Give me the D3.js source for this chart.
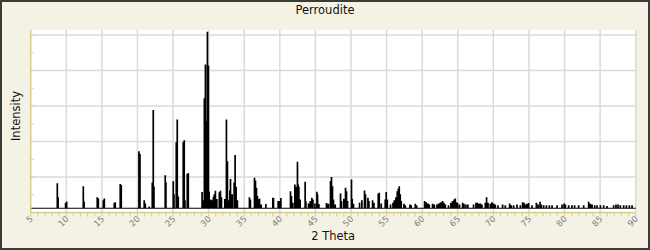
<!DOCTYPE html>
<head>
<meta charset="utf-8">
<style>
body { margin: 0; background: #fff; }
svg { display: block; font-family: "DejaVu Sans", Verdana, sans-serif; }
.tickLabel { font-size: 8.5px; fill: #7d7d7d; }
.axisTitle { font-size: 11.5px; fill: #111; }
</style>
</head>
<body>
<svg width="650" height="250"></svg>
<script src="https://d3js.org/d3.v7.min.js"></script>
<script>
// peak positions (2 theta) and heights
var twoTheta = [8.74, 8.85, 9.9, 10.05, 12.39, 12.5, 14.35, 14.5, 15.2, 15.34, 16.74, 16.88, 17.58, 17.72,
  20.21, 20.35, 20.95, 21.1, 21.66, 22.08, 22.22, 22.32, 23.9, 24.0, 25.03, 25.13, 25.45, 25.59, 25.73,
  26.43, 26.57, 26.67, 27.0, 27.14, 29.08, 29.22, 29.4, 29.55, 29.65, 29.83, 29.97, 30.07, 30.3, 30.45,
  30.67, 30.8, 30.95, 31.15, 31.5, 31.66, 31.8, 32.27, 32.5, 32.64, 32.84, 32.98, 33.07, 33.3, 33.58,
  33.72, 33.86, 34.04, 35.73, 35.87, 36.44, 36.58, 36.72, 36.86, 37.0, 37.15, 37.38, 38.04, 39.02, 39.11,
  39.77, 39.95, 40.15, 41.5, 41.64, 41.83, 42.11, 42.25, 42.48, 42.58, 42.68, 42.86, 43.56, 43.66, 44.03,
  44.27, 44.5, 44.65, 44.93, 45.21, 45.3, 45.49, 46.56, 46.7, 46.84, 47.12, 47.26, 47.4, 47.54, 47.78,
  48.53, 48.67, 49.0, 49.23, 49.37, 49.51, 50.07, 50.17, 50.35, 51.2, 51.53, 51.9, 52.04, 52.38, 52.52,
  53.03, 53.22, 53.83, 53.97, 54.25, 54.81, 54.95, 55.1, 55.56, 55.9, 56.08, 56.31, 56.5, 56.64, 56.78,
  56.92, 57.06, 57.44, 57.62, 58.28, 58.46, 59.03, 59.21, 60.34, 60.58, 60.82, 61.0, 61.46, 61.7, 62.08,
  62.3, 62.54, 62.68, 62.87, 63.06, 63.25, 63.7, 64.04, 64.27, 64.5, 64.65, 64.79, 64.97, 65.25, 65.68,
  65.87, 66.15, 66.43, 67.22, 67.56, 67.75, 67.93, 68.17, 68.4, 68.87, 69.05, 69.25, 69.57, 69.8, 70.03,
  70.27, 70.65, 71.3, 71.68, 72.29, 72.52, 72.85, 73.32, 73.79, 74.11, 74.31, 74.49, 74.73, 74.96, 75.43,
  76.04, 76.28, 76.56, 76.74, 77.07, 77.45, 77.87, 78.25, 78.95, 79.65, 79.94, 80.12, 80.58, 81.05, 81.42,
  81.98, 82.69, 83.39, 83.63, 83.87, 84.24, 84.57, 85.04, 85.5, 85.97, 86.9, 87.23, 87.52, 87.84, 88.31,
  88.69, 89.11, 89.49];
var intensity = [16.1, 8.2, 5.0, 5.9, 14.4, 5.9, 8.2, 7.6, 6.6, 7.6, 5.0, 5.4, 15.7, 15.1,
  34.1, 32.6, 6.5, 4.8, 3.1, 16.6, 57.4, 14.2, 20.6, 16.6, 17.2, 10.0, 39.2, 52.1, 8.7,
  39.2, 40.3, 6.6, 21.3, 21.9, 11.2, 6.5, 64, 83, 51, 101.5, 82.5, 11.5, 7.0, 6.5,
  8.6, 10.0, 11.9, 7.2, 11.0, 11.9, 8.2, 7.2, 52.1, 28.5, 6.6, 12.1, 18.5, 10.0, 16.6,
  32.0, 14.2, 6.5, 8.2, 7.0, 19.3, 17.7, 13.6, 8.9, 7.0, 7.4, 4.2, 4.4, 8.0, 7.8,
  6.1, 6.1, 7.8, 11.7, 8.9, 5.2, 15.5, 14.2, 28.3, 15.5, 14.2, 7.0, 17.0, 6.1, 4.8,
  6.1, 8.0, 7.0, 4.8, 11.4, 9.9, 4.4, 5.0, 4.2, 4.6, 17.4, 19.6, 14.5, 7.0, 4.2,
  10.4, 6.1, 7.4, 13.6, 11.7, 6.1, 18.3, 7.4, 4.6, 5.2, 6.6, 12.1, 9.9, 8.0, 6.1,
  6.5, 5.2, 10.4, 10.8, 4.8, 7.0, 11.2, 7.0, 4.2, 5.2, 6.5, 8.3, 11.7, 13.0, 14.5,
  9.9, 6.1, 4.6, 3.7, 4.2, 3.7, 4.6, 3.7, 6.1, 5.5, 4.8, 4.2, 4.6, 4.2, 4.2,
  4.8, 5.2, 5.5, 6.1, 5.2, 4.2, 3.8, 5.2, 6.1, 7.0, 7.6, 5.5, 5.2, 4.2, 5.2,
  4.6, 4.2, 4.2, 4.2, 5.2, 5.2, 4.6, 4.8, 4.2, 5.2, 8.3, 5.2, 4.6, 5.5, 4.8,
  4.2, 3.8, 4.2, 3.8, 4.8, 3.8, 3.7, 4.2, 3.7, 5.5, 5.2, 4.2, 4.6, 5.0, 3.7,
  5.2, 4.2, 5.7, 4.2, 3.8, 3.8, 3.7, 3.7, 3.8, 4.2, 4.8, 4.2, 3.7, 3.7, 3.7,
  3.7, 3.7, 5.7, 4.6, 4.2, 3.7, 3.8, 3.7, 3.7, 3.3, 3.8, 4.2, 4.2, 3.8, 3.7,
  3.7, 3.8, 3.7];
var baseline = 2.4;
var xTicks = [5, 10, 15, 20, 25, 30, 35, 40, 45, 50, 55, 60, 65, 70, 75, 80, 85, 90];
var yGrid = [20, 40, 60, 80, 100];
var chartTitle = "Perroudite", xTitle = "2 Theta", yTitle = "Intensity";

var svg = d3.select("svg"),
    width = +svg.attr("width"),
    height = +svg.attr("height"),
    pl = 30.7, pr = 635.7, pt = 30, pb = 212.5;

var x = d3.scaleLinear().domain([5, 90]).range([pl, pr]);
var y = d3.scaleLinear().domain([0, 102.8]).range([pb, pt]);

// frame
svg.append("rect")
    .attr("x", 1).attr("y", 1).attr("width", width - 2).attr("height", height - 2)
    .attr("fill", "#f4f1e5").attr("stroke", "#3b3b37").attr("stroke-width", 2);
svg.append("rect")
    .attr("x", pl).attr("y", pt).attr("width", pr - pl).attr("height", pb - pt)
    .attr("fill", "#fff");

// grid
svg.append("g").selectAll("line")
    .data(xTicks.slice(1))
    .enter().append("line")
      .attr("x1", function(d) { return x(d); }).attr("x2", function(d) { return x(d); })
      .attr("y1", pt).attr("y2", pb)
      .attr("stroke", "#dadada").attr("stroke-width", 1.5);
svg.append("g").selectAll("line")
    .data(yGrid)
    .enter().append("line")
      .attr("x1", pl).attr("x2", pr)
      .attr("y1", function(d) { return y(d); }).attr("y2", function(d) { return y(d); })
      .attr("stroke", "#dadada").attr("stroke-width", 1.5);

// pattern: each peak drawn as a narrow stick
var pts = [];
var hw = 0.035;
twoTheta.forEach(function(t, i) {
  pts.push([t - hw, baseline], [t - hw, intensity[i]], [t + hw, intensity[i]], [t + hw, baseline]);
});
pts.unshift([5, baseline]);
pts.push([90, baseline]);
var line = d3.line()
    .x(function(d) { return x(d[0]); })
    .y(function(d) { return y(d[1]); });
svg.append("path")
    .datum(pts)
    .attr("d", line)
    .attr("fill", "none")
    .attr("stroke", "#000")
    .attr("stroke-width", 1.2);

// axes (yellow)
var axisCol = "#d8ce8c";
svg.append("line").attr("x1", pl).attr("x2", pl).attr("y1", pt).attr("y2", pb)
    .attr("stroke", axisCol).attr("stroke-width", 1.5);
svg.append("line").attr("x1", pl).attr("x2", pr).attr("y1", pb).attr("y2", pb)
    .attr("stroke", axisCol).attr("stroke-width", 1.5);
svg.append("g").selectAll("line")
    .data(d3.range(10, 101, 10))
    .enter().append("line")
      .attr("x1", pl).attr("x2", pl + 3)
      .attr("y1", function(d) { return y(d); }).attr("y2", function(d) { return y(d); })
      .attr("stroke", axisCol).attr("stroke-width", 1);
svg.append("g").selectAll("line")
    .data(d3.range(5, 91, 1))
    .enter().append("line")
      .attr("x1", function(d) { return x(d); }).attr("x2", function(d) { return x(d); })
      .attr("y1", pb).attr("y2", pb + 4)
      .attr("stroke", axisCol).attr("stroke-width", 1);

// tick labels
svg.append("g").selectAll("text")
    .data(xTicks)
    .enter().append("text")
      .attr("class", "tickLabel")
      .attr("text-anchor", "end")
      .attr("transform", function(d) { return "translate(" + (x(d) + 3) + "," + (pb + 7) + ") rotate(-45)"; })
      .text(function(d) { return d; });

// titles
svg.append("text").attr("class", "axisTitle")
    .attr("x", width / 2).attr("y", 14).attr("text-anchor", "middle").text(chartTitle);
svg.append("text").attr("class", "axisTitle")
    .attr("x", (pl + pr) / 2).attr("y", 240).attr("text-anchor", "middle").text(xTitle);
svg.append("text").attr("class", "axisTitle")
    .attr("transform", "translate(20,116) rotate(-90)").attr("text-anchor", "middle").text(yTitle);
</script>
</body>
